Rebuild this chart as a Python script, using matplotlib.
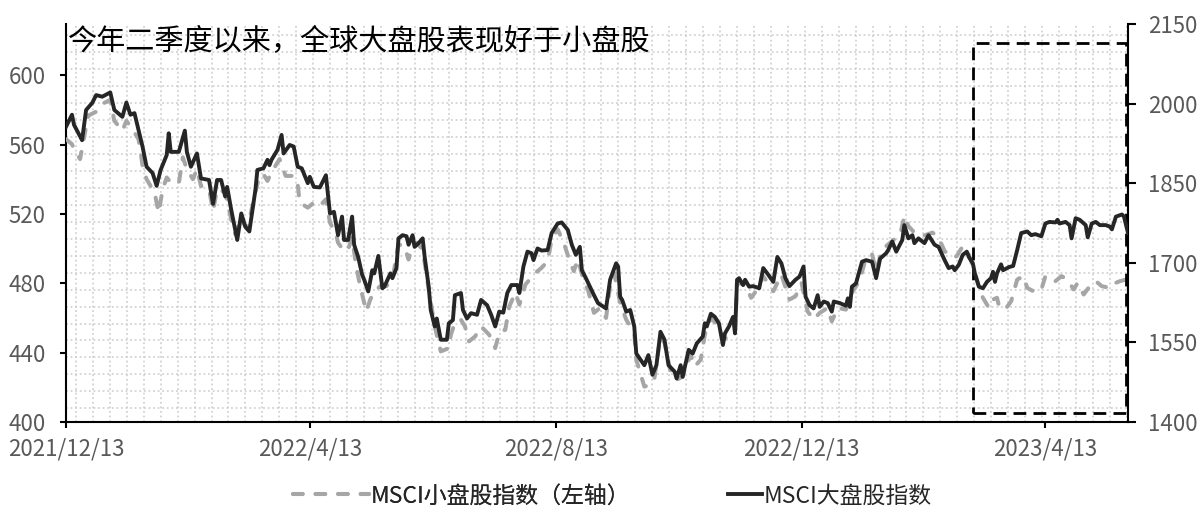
import numpy as np
import pandas as pd
import matplotlib
matplotlib.use("Agg")
import matplotlib.pyplot as plt
import matplotlib.dates as mdates
from matplotlib.collections import LineCollection
from matplotlib.patches import Rectangle
from matplotlib.ticker import FixedLocator

plt.rcParams['font.family'] = ['Noto Sans CJK SC', 'DejaVu Sans']

# ---------------- DADOS ----------------
# MSCI 大盘股指数 (eixo direito)
big_dates = [
    "2021-12-13", "2021-12-16", "2021-12-17", "2021-12-21", "2021-12-23", "2021-12-26", "2021-12-28", "2021-12-31",
    "2022-01-04", "2022-01-06", "2022-01-10", "2022-01-12", "2022-01-14", "2022-01-16", "2022-01-20", "2022-01-22",
    "2022-01-25", "2022-01-27", "2022-01-29", "2022-02-01", "2022-02-02", "2022-02-03", "2022-02-07", "2022-02-10",
    "2022-02-11", "2022-02-13", "2022-02-16", "2022-02-18", "2022-02-22", "2022-02-24", "2022-02-26", "2022-02-28",
    "2022-03-02", "2022-03-03", "2022-03-05", "2022-03-08", "2022-03-10", "2022-03-12", "2022-03-14", "2022-03-17",
    "2022-03-18", "2022-03-21", "2022-03-23", "2022-03-24", "2022-03-25", "2022-03-28", "2022-03-30", "2022-03-31",
    "2022-04-03", "2022-04-05", "2022-04-07", "2022-04-09", "2022-04-12", "2022-04-13", "2022-04-15", "2022-04-18",
    "2022-04-21", "2022-04-23", "2022-04-25", "2022-04-27", "2022-04-29", "2022-04-30", "2022-05-02", "2022-05-04",
    "2022-05-05", "2022-05-07", "2022-05-09", "2022-05-10", "2022-05-12", "2022-05-14", "2022-05-15", "2022-05-17",
    "2022-05-19", "2022-05-20", "2022-05-23", "2022-05-24", "2022-05-26", "2022-05-27", "2022-05-29", "2022-05-31",
    "2022-06-01", "2022-06-03", "2022-06-04", "2022-06-06", "2022-06-08", "2022-06-09", "2022-06-11", "2022-06-12",
    "2022-06-14", "2022-06-15", "2022-06-17", "2022-06-20", "2022-06-21", "2022-06-23", "2022-06-24", "2022-06-27",
    "2022-06-28", "2022-06-30", "2022-07-02", "2022-07-05", "2022-07-07", "2022-07-10", "2022-07-12", "2022-07-14",
    "2022-07-16", "2022-07-18", "2022-07-20", "2022-07-22", "2022-07-25", "2022-07-26", "2022-07-28", "2022-07-30",
    "2022-08-01", "2022-08-02", "2022-08-04", "2022-08-06", "2022-08-09", "2022-08-11", "2022-08-14", "2022-08-16",
    "2022-08-19", "2022-08-21", "2022-08-23", "2022-08-25", "2022-08-26", "2022-08-28", "2022-09-01", "2022-09-03",
    "2022-09-07", "2022-09-09", "2022-09-12", "2022-09-13", "2022-09-14", "2022-09-15", "2022-09-17", "2022-09-19",
    "2022-09-21", "2022-09-22", "2022-09-26", "2022-09-28", "2022-09-30", "2022-10-02", "2022-10-04", "2022-10-06",
    "2022-10-08", "2022-10-11", "2022-10-12", "2022-10-14", "2022-10-15", "2022-10-18", "2022-10-20", "2022-10-22",
    "2022-10-25", "2022-10-26", "2022-10-27", "2022-10-29", "2022-10-31", "2022-11-02", "2022-11-04", "2022-11-05",
    "2022-11-07", "2022-11-09", "2022-11-10", "2022-11-11", "2022-11-12", "2022-11-14", "2022-11-15", "2022-11-17",
    "2022-11-19", "2022-11-22", "2022-11-24", "2022-11-26", "2022-11-29", "2022-12-01", "2022-12-03", "2022-12-05",
    "2022-12-07", "2022-12-10", "2022-12-12", "2022-12-14", "2022-12-15", "2022-12-17", "2022-12-19", "2022-12-21",
    "2022-12-22", "2022-12-24", "2022-12-26", "2022-12-28", "2022-12-29", "2023-01-01", "2023-01-04", "2023-01-05",
    "2023-01-06", "2023-01-07", "2023-01-09", "2023-01-12", "2023-01-14", "2023-01-17", "2023-01-19", "2023-01-21",
    "2023-01-24", "2023-01-25", "2023-01-27", "2023-01-29", "2023-02-01", "2023-02-02", "2023-02-04", "2023-02-06",
    "2023-02-07", "2023-02-09", "2023-02-12", "2023-02-14", "2023-02-17", "2023-02-19", "2023-02-22", "2023-02-24",
    "2023-02-26", "2023-02-27", "2023-03-01", "2023-03-03", "2023-03-05", "2023-03-06", "2023-03-08", "2023-03-09",
    "2023-03-11", "2023-03-13", "2023-03-15", "2023-03-17", "2023-03-18", "2023-03-19", "2023-03-20", "2023-03-22",
    "2023-03-23", "2023-03-26", "2023-03-28", "2023-03-30", "2023-04-01", "2023-04-04", "2023-04-06", "2023-04-08",
    "2023-04-11", "2023-04-13", "2023-04-15", "2023-04-18", "2023-04-19", "2023-04-20", "2023-04-23", "2023-04-25",
    "2023-04-26", "2023-04-28", "2023-04-30", "2023-05-03", "2023-05-04", "2023-05-06", "2023-05-08", "2023-05-10",
    "2023-05-13", "2023-05-15", "2023-05-16", "2023-05-18", "2023-05-21", "2023-05-22", "2023-05-24",
]
big_vals = [
    1956, 1979, 1960, 1931, 1988, 2001, 2016, 2013,
    2021, 1988, 1975, 2002, 1979, 1982, 1919, 1881,
    1869, 1845, 1875, 1903, 1944, 1909, 1909, 1949,
    1909, 1881, 1906, 1859, 1856, 1811, 1856, 1856,
    1825, 1843, 1800, 1743, 1793, 1768, 1759, 1837,
    1875, 1878, 1894, 1884, 1894, 1913, 1941, 1906,
    1922, 1919, 1881, 1878, 1850, 1862, 1843, 1842,
    1865, 1793, 1796, 1752, 1787, 1743, 1743, 1787,
    1734, 1711, 1677, 1668, 1646, 1686, 1680, 1713,
    1652, 1655, 1680, 1671, 1690, 1746, 1752, 1750,
    1734, 1752, 1730, 1737, 1746, 1711, 1655, 1611,
    1580, 1595, 1555, 1555, 1586, 1592, 1639, 1643,
    1611, 1595, 1605, 1602, 1630, 1620, 1602, 1580,
    1608, 1606, 1643, 1658, 1658, 1643, 1693, 1721,
    1718, 1705, 1727, 1723, 1724, 1756, 1774, 1776,
    1762, 1734, 1715, 1730, 1686, 1671, 1639, 1624,
    1614, 1668, 1699, 1693, 1636, 1630, 1608, 1611,
    1580, 1529, 1507, 1526, 1489, 1507, 1570, 1555,
    1507, 1495, 1482, 1507, 1485, 1536, 1529, 1548,
    1561, 1586, 1580, 1604, 1598, 1586, 1545, 1567,
    1580, 1598, 1567, 1668, 1671, 1658, 1668, 1655,
    1656, 1652, 1690, 1680, 1664, 1711, 1699, 1671,
    1656, 1668, 1674, 1693, 1636, 1620, 1614, 1639,
    1617, 1627, 1624, 1608, 1627, 1624, 1619, 1633,
    1617, 1655, 1661, 1702, 1705, 1702, 1671, 1708,
    1718, 1724, 1740, 1721, 1743, 1771, 1746, 1752,
    1737, 1746, 1737, 1752, 1734, 1730, 1705, 1690,
    1693, 1686, 1696, 1715, 1721, 1711, 1699, 1680,
    1655, 1652, 1664, 1671, 1683, 1664, 1680, 1697,
    1686, 1692, 1694, 1724, 1756, 1759, 1752, 1754,
    1750, 1774, 1777, 1776, 1781, 1774, 1777, 1771,
    1746, 1784, 1781, 1771, 1748, 1774, 1777, 1771,
    1771, 1768, 1763, 1787, 1791, 1787, 1756,
]

# MSCI 小盘股指数 (eixo esquerdo)
small_dates = [
    "2021-12-13", "2021-12-16", "2021-12-17", "2021-12-20", "2021-12-24", "2021-12-29", "2022-01-01", "2022-01-04",
    "2022-01-06", "2022-01-10", "2022-01-12", "2022-01-15", "2022-01-18", "2022-01-19", "2022-01-20", "2022-01-22",
    "2022-01-26", "2022-01-28", "2022-01-30", "2022-02-01", "2022-02-03", "2022-02-07", "2022-02-09", "2022-02-11",
    "2022-02-14", "2022-02-16", "2022-02-18", "2022-02-22", "2022-02-24", "2022-02-26", "2022-03-02", "2022-03-05",
    "2022-03-07", "2022-03-10", "2022-03-13", "2022-03-17", "2022-03-19", "2022-03-21", "2022-03-23", "2022-03-25",
    "2022-03-29", "2022-04-01", "2022-04-05", "2022-04-07", "2022-04-08", "2022-04-12", "2022-04-15", "2022-04-18",
    "2022-04-21", "2022-04-23", "2022-04-26", "2022-04-27", "2022-04-30", "2022-05-02", "2022-05-04", "2022-05-06",
    "2022-05-08", "2022-05-11", "2022-05-13", "2022-05-15", "2022-05-18", "2022-05-21", "2022-05-24", "2022-05-27",
    "2022-05-30", "2022-06-01", "2022-06-03", "2022-06-05", "2022-06-08", "2022-06-11", "2022-06-14", "2022-06-17",
    "2022-06-21", "2022-06-22", "2022-06-24", "2022-06-27", "2022-06-29", "2022-07-01", "2022-07-04", "2022-07-07",
    "2022-07-11", "2022-07-14", "2022-07-16", "2022-07-19", "2022-07-21", "2022-07-24", "2022-07-26", "2022-07-29",
    "2022-08-03", "2022-08-06", "2022-08-09", "2022-08-11", "2022-08-14", "2022-08-17", "2022-08-20", "2022-08-22",
    "2022-08-24", "2022-08-27", "2022-08-29", "2022-09-01", "2022-09-04", "2022-09-07", "2022-09-09", "2022-09-11",
    "2022-09-14", "2022-09-17", "2022-09-21", "2022-09-22", "2022-09-26", "2022-09-29", "2022-10-01", "2022-10-04",
    "2022-10-06", "2022-10-09", "2022-10-12", "2022-10-15", "2022-10-19", "2022-10-21", "2022-10-24", "2022-10-26",
    "2022-10-29", "2022-11-02", "2022-11-04", "2022-11-10", "2022-11-11", "2022-11-15", "2022-11-18", "2022-11-21",
    "2022-11-24", "2022-11-29", "2022-12-03", "2022-12-07", "2022-12-10", "2022-12-13", "2022-12-16", "2022-12-19",
    "2022-12-22", "2022-12-26", "2022-12-28", "2022-12-31", "2023-01-04", "2023-01-07", "2023-01-11", "2023-01-14",
    "2023-01-17", "2023-01-19", "2023-01-22", "2023-01-27", "2023-01-31", "2023-02-02", "2023-02-04", "2023-02-07",
    "2023-02-11", "2023-02-16", "2023-02-19", "2023-02-22", "2023-02-26", "2023-02-28", "2023-03-03", "2023-03-06",
    "2023-03-08", "2023-03-11", "2023-03-13", "2023-03-16", "2023-03-18", "2023-03-20", "2023-03-21", "2023-03-24",
    "2023-03-27", "2023-03-30", "2023-04-02", "2023-04-04", "2023-04-08", "2023-04-11", "2023-04-13", "2023-04-15",
    "2023-04-18", "2023-04-21", "2023-04-24", "2023-04-27", "2023-04-29", "2023-05-02", "2023-05-05", "2023-05-08",
    "2023-05-11", "2023-05-15", "2023-05-16", "2023-05-20", "2023-05-23", "2023-05-24",
]
small_vals = [
    563.1, 560.2, 557.4, 551.6, 576.6, 579.5, 584.0, 585.7,
    573.7, 567.9, 573.7, 568.9, 563.1, 556.4, 547.7, 540.0,
    532.3, 520.7, 534.2, 541.0, 538.1, 537.7, 552.6, 545.8,
    540.0, 545.8, 536.1, 534.2, 521.7, 534.2, 532.5, 516.9,
    508.2, 516.9, 511.1, 532.5, 541.9, 542.9, 539.0, 544.0,
    551.6, 541.9, 541.9, 537.1, 526.5, 523.6, 526.5, 524.6,
    528.4, 515.0, 508.2, 503.4, 498.5, 499.5, 506.4, 489.8,
    478.3, 463.8, 470.6, 475.4, 478.3, 478.3, 482.1, 502.4,
    501.4, 493.7, 502.4, 503.4, 499.5, 476.4, 455.1, 440.7,
    442.6, 450.3, 457.3, 459.0, 455.1, 446.5, 449.3, 455.1,
    450.3, 442.6, 451.3, 453.2, 466.7, 474.5, 467.7, 479.3,
    486.0, 488.9, 492.7, 505.3, 511.1, 503.4, 492.7, 487.0,
    493.7, 481.2, 476.4, 462.9, 465.8, 460.0, 478.3, 486.0,
    468.7, 459.0, 451.3, 435.9, 420.4, 421.4, 425.3, 449.3,
    445.7, 429.1, 424.3, 426.2, 438.8, 432.0, 435.9, 450.3,
    460.0, 455.1, 447.4, 451.3, 480.2, 479.3, 471.6, 476.4,
    484.1, 475.4, 485.0, 470.6, 472.5, 480.2, 463.8, 459.0,
    462.9, 465.8, 458.0, 465.8, 464.8, 474.5, 482.1, 494.9,
    496.6, 487.0, 499.5, 504.3, 508.2, 518.8, 513.0, 509.2,
    507.2, 509.2, 506.3, 498.5, 494.7, 495.6, 501.4, 496.6,
    489.8, 478.3, 471.6, 465.8, 470.6, 471.6, 466.7, 464.8,
    469.6, 482.1, 484.1, 477.3, 474.8, 476.4, 484.1, 482.1,
    481.2, 484.1, 482.1, 476.4, 480.2, 473.5, 478.3, 481.2,
    478.3, 477.3, 479.3, 481.2, 482.1, 483.9,
]

xtick_labels = ["2021/12/13", "2022/4/13", "2022/8/13", "2022/12/13", "2023/4/13"]
left_ticks = [400, 440, 480, 520, 560, 600]
right_ticks = [1400, 1550, 1700, 1850, 2000, 2150]

titulo = "今年二季度以来，全球大盘股表现好于小盘股"
nome_small = "MSCI小盘股指数（左轴）"
nome_big = "MSCI大盘股指数"

# caixa tracejada (datas e valores no eixo esquerdo)
caixa_datas = ["2023-03-08", "2023-05-23"]
caixa_vals = [405.2, 618.5]

# ---------------- FIGURA ----------------
fig = plt.figure(figsize=(11.99, 5.07), dpi=100)
ax = fig.add_axes([0.055, 0.1677, 0.8858, 0.785])
ax2 = ax.twinx()

xb = pd.to_datetime(big_dates)
xs = pd.to_datetime(small_dates)

# fundo com padrao pontilhado (independente dos eixos)
w_px = 0.8858 * fig.get_figwidth() * fig.dpi
h_px = 0.785 * fig.get_figheight() * fig.dpi
passo = 16.95
gx = np.arange(10, w_px, passo) / w_px
gy = np.arange(13.7, h_px, passo) / h_px
segs = [[(g, 0), (g, 1)] for g in gx] + [[(0, g), (1, g)] for g in gy]
ax.add_collection(LineCollection(segs, transform=ax.transAxes, colors="#cccccc",
                                 linewidths=1.1, linestyles=[(0, (1.2, 1.8))], zorder=0),
                  autolim=False)

l1, = ax.plot(xs, small_vals, color="#a6a6a6", lw=2.9, linestyle=(0, (2.4, 3.2)),
              dash_capstyle="round", label=nome_small, zorder=3)
l2, = ax2.plot(xb, big_vals, color="#262626", lw=2.8, label=nome_big, zorder=3)

# limites
x0 = pd.Timestamp("2021-12-13")
x1 = pd.Timestamp("2023-05-24")
ax.set_xlim(x0, x1)
ax.set_ylim(400, 629.5)
ax2.set_ylim(1400, 2150)

# caixa
cx = mdates.date2num(pd.to_datetime(caixa_datas))
ax.add_patch(Rectangle((cx[0], caixa_vals[0]), cx[1] - cx[0], caixa_vals[1] - caixa_vals[0],
                       fill=False, edgecolor="black", lw=2.0, linestyle=(0, (4.6, 2.6)), zorder=5))

# ticks
xt = mdates.date2num(pd.to_datetime(xtick_labels, format="%Y/%m/%d"))
ax.xaxis.set_major_locator(FixedLocator(xt))
ax.set_xticklabels(xtick_labels)
ax.set_yticks(left_ticks)
ax2.set_yticks(right_ticks)

cor_txt = "#595959"
ax.tick_params(axis="x", direction="out", length=4.3, width=1.5, pad=7,
               labelsize=16, labelcolor=cor_txt)
ax.tick_params(axis="y", direction="out", length=4.3, width=1.5, pad=10.5,
               labelsize=16, labelcolor=cor_txt)
ax2.tick_params(axis="y", direction="out", length=5.8, width=1.5, pad=8.6,
                labelsize=16, labelcolor=cor_txt)

for s in ["top", "right"]:
    ax.spines[s].set_visible(False)
for s in ["top", "left", "bottom"]:
    ax2.spines[s].set_visible(False)
ax.spines["left"].set_linewidth(1.5)
ax.spines["bottom"].set_linewidth(1.5)
ax2.spines["right"].set_linewidth(1.5)

ax.text(0.002, 0.955, titulo, transform=ax.transAxes, ha="left", va="center",
        fontsize=21, color="black", zorder=6)

# legenda em duas partes (comprimentos de traco diferentes)
leg1 = fig.legend([l1], [nome_small], loc="center", bbox_to_anchor=(0.385, 0.022),
                  frameon=False, fontsize=16.5, handlelength=3.3, handletextpad=0.05)
leg2 = fig.legend([l2], [nome_big], loc="center", bbox_to_anchor=(0.692, 0.022),
                  frameon=False, fontsize=16.5, handlelength=1.5, handletextpad=0.05)
fig.add_artist(leg1)
for lg in (leg1, leg2):
    for t in lg.get_texts():
        t.set_color("#262626")

fig.savefig("out.png", dpi=100)
plt.close(fig)
